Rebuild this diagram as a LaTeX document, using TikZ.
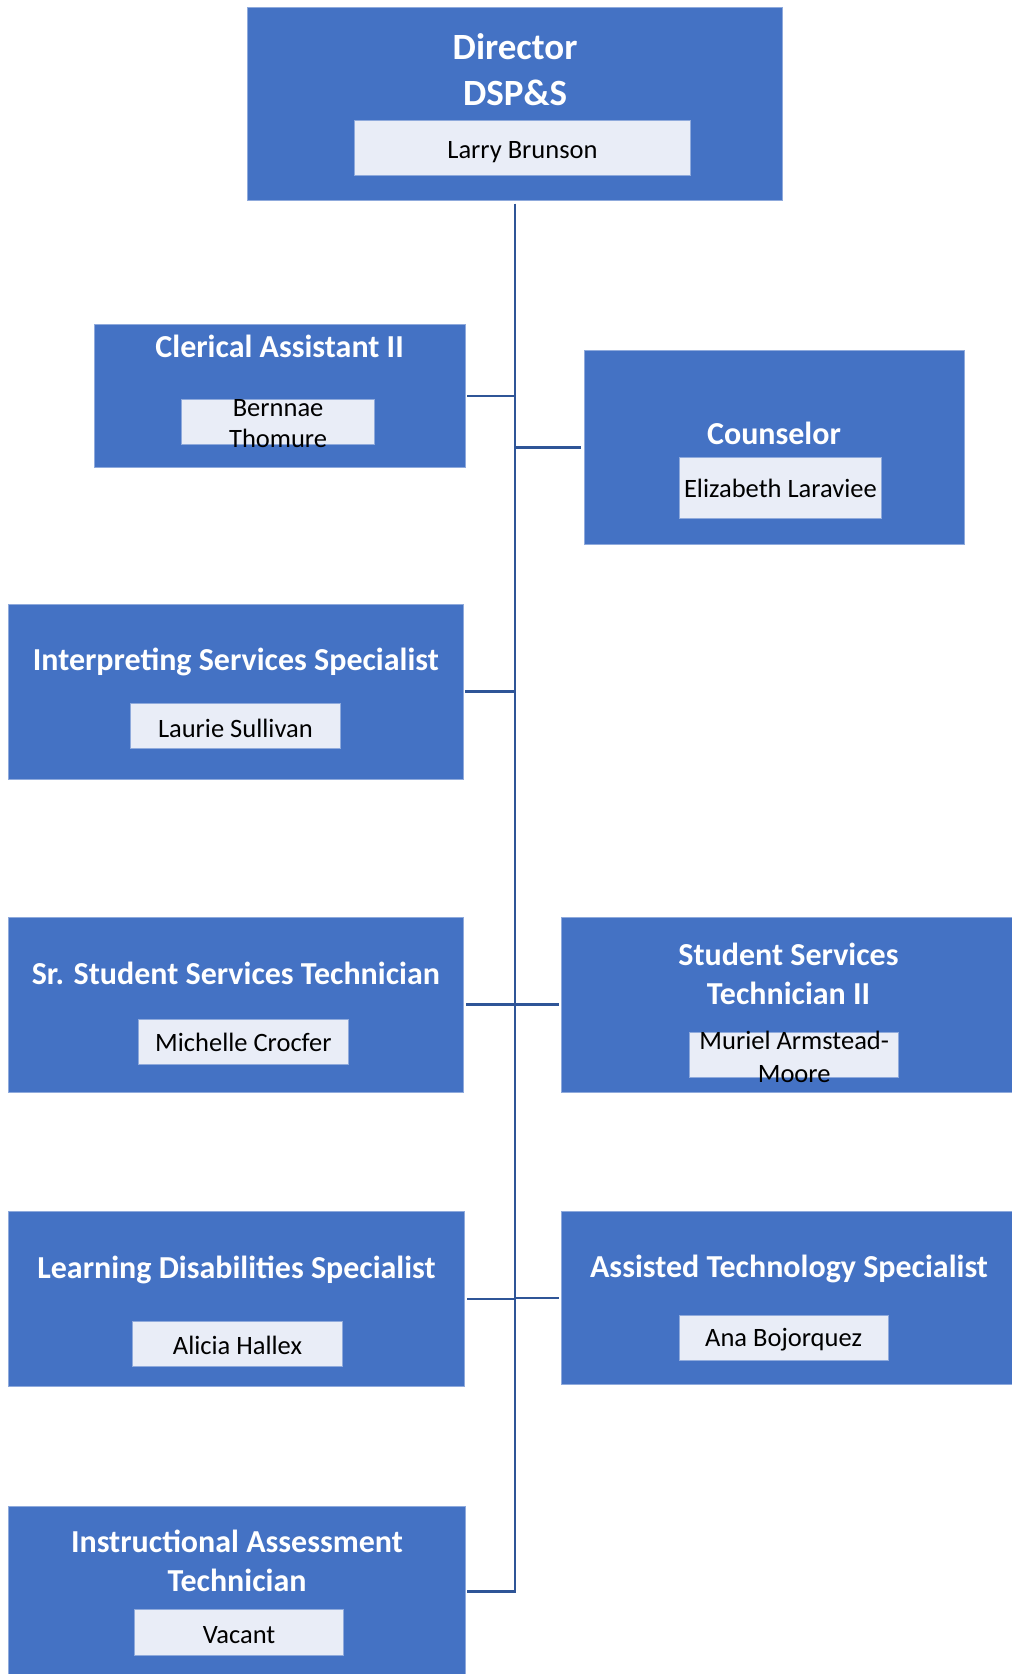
\documentclass[tikz,border=0pt]{standalone}
\usepackage{fontspec}
\setmainfont{Carlito}
\definecolor{boxblue}{HTML}{4472C4}
\definecolor{namefill}{HTML}{E9EDF7}
\definecolor{linkblue}{HTML}{2F5597}
\definecolor{edgeline}{HTML}{8FAADC}
\begin{document}
\begin{tikzpicture}[x=1pt,y=-1pt,
  posbox/.style={rectangle, fill=boxblue, draw=edgeline, line width=0.8pt, inner sep=0pt, outer sep=0pt, anchor=north west},
  namebox/.style={rectangle, fill=namefill, draw=edgeline, line width=0.8pt, inner sep=0pt, outer sep=0pt, anchor=north west},
  titletext/.style={text=white, font=\fontsize{32}{39.5}\selectfont\bfseries, align=center, inner sep=0pt},
  nametext/.style={text=black, font=\fontsize{26.5}{31}\selectfont, align=center, inner sep=0pt},
  link/.style={draw=linkblue, line width=2.6pt}]
\useasboundingbox[fill=white] (0,0) rectangle (1012,1674);

% Director
\node[posbox, minimum width=534.8pt, minimum height=193.2pt] (dir) at (247.7,7.5) {};
\node[namebox, minimum width=336.3pt, minimum height=54.5pt] (dirNB) at (354.4,120.6) {};
\node[titletext, font=\fontsize{37}{46}\selectfont\bfseries] (dirT) at (515.1,70) {Director\\DSP\&S};
\node[nametext] (dirN) at (522.5,152.5) {Larry Brunson};

% Clerical Assistant II
\node[posbox, minimum width=371.5pt, minimum height=143.1pt] (cler) at (93.9,324.5) {};
\node[namebox, minimum width=193.2pt, minimum height=44.8pt] (clerNB) at (181.5,399.2) {};
\node[titletext] (clerT) at (279.6,346.5) {Clerical Assistant II};
\node[nametext] (clerN) at (278.1,423.5) {Bernnae\\Thomure};

% Counselor
\node[posbox, minimum width=380.1pt, minimum height=194.3pt] (coun) at (583.9,350.1) {};
\node[namebox, minimum width=202.8pt, minimum height=61.9pt] (counNB) at (679,456.9) {};
\node[titletext] (counT) at (774,433.5) {Counselor};
\node[nametext] (counN) at (780.4,488) {Elizabeth Laraviee};

% Interpreting Services Specialist
\node[posbox, minimum width=454.8pt, minimum height=175.1pt] (interp) at (8.5,604.2) {};
\node[namebox, minimum width=210.3pt, minimum height=44.8pt] (interpNB) at (130.2,703.5) {};
\node[titletext] (interpT) at (235.9,661.5) {Interpreting Services Specialist};
\node[nametext] (interpN) at (235.4,728) {Laurie Sullivan};

% Sr. Student Services Technician
\node[posbox, minimum width=454.8pt, minimum height=175pt] (srsst) at (8.5,917) {};
\node[namebox, minimum width=209.2pt, minimum height=44.8pt] (srsstNB) at (138.8,1019.5) {};
\node[titletext] (srsstT) at (235.9,973.5) {Sr. Student Services Technician};
\node[nametext] (srsstN) at (243.4,1042.5) {Michelle Crocfer};

% Student Services Technician II
\node[posbox, minimum width=452pt, minimum height=175pt] (sst) at (561.5,917) {};
\node[namebox, minimum width=209.2pt, minimum height=44.8pt] (sstNB) at (689.6,1032.3) {};
\node[titletext] (sstT) at (788.5,974) {Student Services\\Technician II};
\node[nametext, font=\fontsize{26.5}{33}\selectfont] (sstN) at (794.2,1057) {Muriel Armstead-\\Moore};

% Learning Disabilities Specialist
\node[posbox, minimum width=455.9pt, minimum height=175.1pt] (ld) at (8.5,1211.6) {};
\node[namebox, minimum width=210.3pt, minimum height=44.8pt] (ldNB) at (132.4,1321.6) {};
\node[titletext] (ldT) at (236.5,1269.5) {Learning Disabilities Specialist};
\node[nametext] (ldN) at (237.5,1345.5) {Alicia Hallex};

% Assisted Technology Specialist
\node[posbox, minimum width=452pt, minimum height=172.9pt] (at) at (561.5,1211.6) {};
\node[namebox, minimum width=209.2pt, minimum height=44.8pt] (atNB) at (679,1315.2) {};
\node[titletext] (atT) at (789,1268.5) {Assisted Technology Specialist};
\node[nametext] (atN) at (783.6,1339.5) {Ana Bojorquez};

% Instructional Assessment Technician
\node[posbox, minimum width=456.9pt, minimum height=171pt] (iat) at (8.5,1506.2) {};
\node[namebox, minimum width=209.2pt, minimum height=45.9pt] (iatNB) at (134.5,1609.8) {};
\node[titletext] (iatT) at (237,1561) {Instructional Assessment\\Technician};
\node[nametext] (iatN) at (239.1,1635) {Vacant};

% Connectors
\draw[link, shorten <=3pt] (dir.south) -- (dir.south |- iat.east) -- ([xshift=2pt]iat.east);
\draw[link, shorten <=2pt] (cler.east) -- (cler.east -| dir.south);
\draw[link, shorten <=3pt] (coun.west) -- (coun.west -| dir.south);
\draw[link, shorten <=2pt] (interp.east) -- (interp.east -| dir.south);
\draw[link, shorten <=3pt] (srsst.east) -- (srsst.east -| dir.south);
\draw[link, shorten <=3pt] (sst.west) -- (sst.west -| dir.south);
\draw[link, shorten <=3pt] (ld.east) -- (ld.east -| dir.south);
\draw[link, shorten <=3pt] (at.west) -- (at.west -| dir.south);
\end{tikzpicture}
\end{document}
